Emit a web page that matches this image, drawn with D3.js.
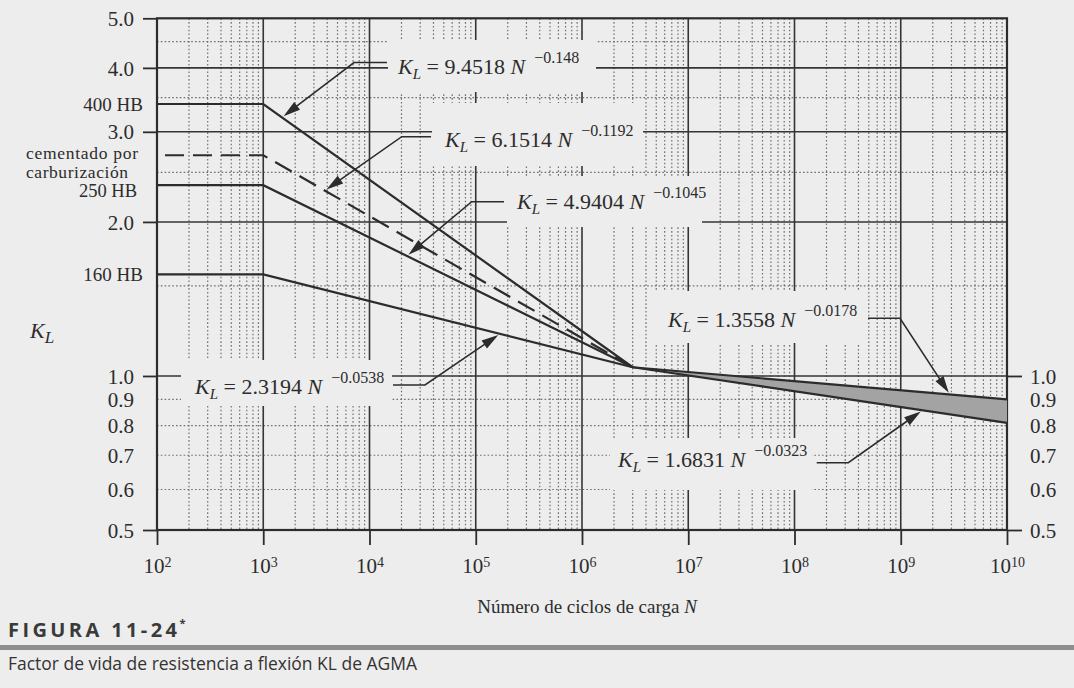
<!DOCTYPE html>
<html><head><meta charset="utf-8">
<script src="https://cdn.jsdelivr.net/npm/d3@7"></script>
<style>
body{margin:0;background:#ededed;}
svg{display:block;}
text{white-space:pre;}
</style>
</head><body>
<svg id="chart" width="1074" height="688"></svg>
<script>
// ---------------- data ----------------
const decadeN = [1e2,1e3,1e4,1e5,1e6,1e7,1e8,1e9,1e10];
const decadeExp = ["2","3","4","5","6","7","8","9","10"];
const minorMult = [2,3,4,5,6,7,8,9];
const leftMajorTicks = [5.0,4.0,3.0,2.0,1.0,0.5];
const leftMinorTicks = [0.9,0.8,0.7,0.6];
const rightMajorTicks = [1.0,0.5];
const rightMinorTicks = [0.9,0.8,0.7,0.6];
const majorGridK = [1,2,3,4];
const minorGridK = [0.6,0.7,0.8,0.9,1.5,2.5,3.5,4.5];

const hardnessN = [1e2, 1e3, 3e6];
const hb400K = [3.40, 3.40, 1.04];
const carburizedK = [2.70, 2.70, 1.04];
const hb250K = [2.36, 2.36, 1.04];
const hb160K = [1.58, 1.58, 1.04];
const bandN = [3e6, 1e10];
const bandUpperK = [1.04, 0.90];
const bandLowerK = [1.04, 0.81];

const eqCoef = ["9.4518","6.1514","4.9404","2.3194","1.3558","1.6831"];
const eqExp  = ["\u22120.148","\u22120.1192","\u22120.1045","\u22120.0538","\u22120.0178","\u22120.0323"];
const eqTipN = [1500, 3800, 2.25e4, 1.69e5, 2.9e9, 1.6e9];

// ---------------- layout ----------------
const W = 1074, H = 688;
const X0 = 157, X1 = 1007, Y0 = 530, Y1 = 18.3;
const ink = "#2c2c2c";
const serif = "'Liberation Serif','Times New Roman',serif";

const svg = d3.select("#chart");
svg.append("rect").attr("width",W).attr("height",H).attr("fill","#ededed");

const x = d3.scaleLog().domain([1e2,1e10]).range([X0,X1]);
const y = d3.scaleLog().domain([0.5,5]).range([Y0,Y1]);

// minor grid
const minorN = [];
decadeN.slice(0,-1).forEach(d => minorMult.forEach(m => minorN.push(d*m)));
const grid = svg.append("g");
grid.selectAll("line.mv").data(minorN).join("line")
  .attr("x1",d=>x(d)).attr("x2",d=>x(d)).attr("y1",y(5)).attr("y2",y(0.5))
  .attr("stroke","#707070").attr("stroke-width",1.2).attr("stroke-dasharray","1.6,2.2");
grid.selectAll("line.mh").data(minorGridK).join("line")
  .attr("x1",X0).attr("x2",X1).attr("y1",d=>y(d)).attr("y2",d=>y(d))
  .attr("stroke","#707070").attr("stroke-width",1.2).attr("stroke-dasharray","1.6,2.2");
// major grid
grid.selectAll("line.Mv").data(decadeN.slice(1,-1)).join("line")
  .attr("x1",d=>x(d)).attr("x2",d=>x(d)).attr("y1",y(5)).attr("y2",y(0.5))
  .attr("stroke","#353535").attr("stroke-width",1.6);
grid.selectAll("line.Mh").data(majorGridK).join("line")
  .attr("x1",X0).attr("x2",X1).attr("y1",d=>y(d)).attr("y2",d=>y(d))
  .attr("stroke","#353535").attr("stroke-width",1.6);

// label background boxes (the printed labels mask the grid)
const annLayout = [
  {series:0, textX:398, baseY:74,    lead:[[387,62.5],[354,62.5]],     box:[388,40,208,52]},
  {series:1, textX:445, baseY:146.5, lead:[[431,136.7],[401.7,136.7]], box:[432,103,211,63]},
  {series:2, textX:517, baseY:209,   lead:[[504,201.7],[471.7,201.7]], box:[507,176,195,51]},
  {series:3, textX:195, baseY:394,   lead:[[393,385],[425,385]],     box:[181,360,211,46]},
  {series:4, textX:668, baseY:326.5, lead:[[868,318.3],[900,318.3]], box:[655,291,211,52]},
  {series:5, textX:618, baseY:466.5, lead:[[816.7,462.7],[848.3,462.7]], box:[610,438,202,52]}
];
svg.append("g").selectAll("rect").data(annLayout).join("rect")
  .attr("x",d=>d.box[0]).attr("y",d=>d.box[1]).attr("width",d=>d.box[2]).attr("height",d=>d.box[3])
  .attr("fill","#ededed");

// frame
svg.append("rect").attr("x",X0).attr("y",Y1).attr("width",X1-X0).attr("height",Y0-Y1)
  .attr("fill","none").attr("stroke",ink).attr("stroke-width",2.2);

// axes
function styleAxis(g){
  g.select(".domain").remove();
  g.selectAll(".tick line").attr("stroke",ink).attr("stroke-width",1.8);
  g.selectAll(".tick text").attr("fill",ink).attr("font-family",serif).attr("font-size",21).attr("dy","0.34em");
}
const fmt = d3.format(".1f");
svg.append("g").attr("transform",`translate(${X0},0)`)
  .call(d3.axisLeft(y).tickValues(leftMajorTicks).tickSize(14).tickPadding(9).tickFormat(fmt)).call(styleAxis);
svg.append("g").attr("transform",`translate(${X0},0)`)
  .call(d3.axisLeft(y).tickValues(leftMinorTicks).tickSize(0).tickPadding(23).tickFormat(fmt)).call(styleAxis);
svg.append("g").attr("transform",`translate(${X1},0)`)
  .call(d3.axisRight(y).tickValues(rightMajorTicks).tickSize(15).tickPadding(8).tickFormat(fmt)).call(styleAxis);
svg.append("g").attr("transform",`translate(${X1},0)`)
  .call(d3.axisRight(y).tickValues(rightMinorTicks).tickSize(0).tickPadding(23).tickFormat(fmt)).call(styleAxis);

const gx = svg.append("g").attr("transform",`translate(0,${Y0})`)
  .call(d3.axisBottom(x).tickValues(decadeN).tickSize(15).tickPadding(13).tickFormat(()=>""));
gx.select(".domain").remove();
gx.selectAll(".tick line").attr("stroke",ink).attr("stroke-width",1.8);
gx.selectAll(".tick text").each(function(d,i){
  const t = d3.select(this).attr("fill",ink).attr("font-family",serif).attr("font-size",21);
  t.text(null);
  t.append("tspan").text("10");
  t.append("tspan").attr("dy","-0.45em").attr("font-size",14).text(decadeExp[i]);
});

// curves
const series = [
  {N:hardnessN, K:hb400K, dash:null},
  {N:hardnessN, K:carburizedK, dash:"19,9"},
  {N:hardnessN, K:hb250K, dash:null},
  {N:hardnessN, K:hb160K, dash:null},
  {N:bandN, K:bandUpperK, dash:null},
  {N:bandN, K:bandLowerK, dash:null}
];
const band = bandN.map((n,i)=>({n, lo:bandLowerK[i], hi:bandUpperK[i]}));
svg.append("path").datum(band)
  .attr("d", d3.area().x(d=>x(d.n)).y0(d=>y(d.lo)).y1(d=>y(d.hi)))
  .attr("fill","#a3a3a3");
const line = d3.line().x(d=>x(d[0])).y(d=>y(d[1]));
svg.append("g").selectAll("path").data(series).join("path")
  .attr("d", s => line(s.N.map((n,i)=>[n,s.K[i]])))
  .attr("fill","none").attr("stroke",ink).attr("stroke-width",2.2)
  .attr("stroke-dasharray", s=>s.dash).attr("stroke-dashoffset", s=>s.dash? -8 : null);

// side labels
const side = svg.append("g").attr("font-family",serif).attr("fill",ink);
side.append("text").attr("x",143).attr("y",y(hb400K[0])+7).attr("font-size",19).attr("text-anchor","end").text("400 HB");
side.append("text").attr("x",26).attr("y",159).attr("font-size",17.5).attr("textLength",112).attr("lengthAdjust","spacing").text("cementado por");
side.append("text").attr("x",26).attr("y",177.5).attr("font-size",17.5).attr("textLength",102).attr("lengthAdjust","spacing").text("carburización");
side.append("text").attr("x",137).attr("y",196.5).attr("font-size",18.5).attr("text-anchor","end").text("250 HB");
side.append("text").attr("x",143).attr("y",y(hb160K[0])+7).attr("font-size",19).attr("text-anchor","end").text("160 HB");

// K_L axis label
const kl = svg.append("text").attr("x",30).attr("y",338).attr("font-family",serif).attr("font-size",22).attr("fill",ink).attr("font-style","italic");
kl.append("tspan").text("K");
kl.append("tspan").attr("dy",5).attr("font-size",17).text("L");

// annotations
function kAt(s, n){
  for (let i=0;i<s.N.length-1;i++){
    if (n>=s.N[i] && n<=s.N[i+1]){
      const t=(Math.log(n)-Math.log(s.N[i]))/(Math.log(s.N[i+1])-Math.log(s.N[i]));
      return Math.exp(Math.log(s.K[i])+t*(Math.log(s.K[i+1])-Math.log(s.K[i])));
    }
  }
  return s.K[s.K.length-1];
}
const ann = svg.append("g");
annLayout.forEach((a,i)=>{
  const s = series[a.series];
  const n = eqTipN[i];
  let tx = x(n), ty = y(kAt(s,n));
  const [p0,p1] = a.lead;
  let dx = tx-p1[0], dy = ty-p1[1];
  const len = Math.hypot(dx,dy); const ux=dx/len, uy=dy/len;
  tx -= ux*2; ty -= uy*2;
  const L=17, Wd=4.8;
  const bx = tx-ux*L, by = ty-uy*L;
  ann.append("path").attr("d",`M${p0[0]},${p0[1]}L${p1[0]},${p1[1]}L${bx+ux*3},${by+uy*3}`)
    .attr("fill","none").attr("stroke",ink).attr("stroke-width",1.6);
  ann.append("path").attr("d",`M${tx},${ty}L${bx-uy*Wd},${by+ux*Wd}L${bx+uy*Wd},${by-ux*Wd}Z`)
    .attr("fill",ink);
  const t = ann.append("text").attr("x",a.textX).attr("y",a.baseY)
    .attr("font-family",serif).attr("font-size",22).attr("fill",ink);
  t.append("tspan").attr("font-style","italic").text("K");
  t.append("tspan").attr("font-style","italic").attr("font-size",15).attr("dy",5).text("L");
  t.append("tspan").attr("dy",-5).text(" = "+eqCoef[i]+" ");
  t.append("tspan").attr("font-style","italic").text("N");
  t.append("tspan").attr("font-size",16).attr("dy",-11).attr("dx",9).text(eqExp[i]);
});

// x title
const xt = svg.append("text").attr("x",587).attr("y",613).attr("text-anchor","middle")
  .attr("font-family",serif).attr("font-size",19).attr("fill",ink);
xt.append("tspan").text("Número de ciclos de carga ");
xt.append("tspan").attr("font-style","italic").text("N");

// caption
const fig = svg.append("text").attr("x",8).attr("y",637).attr("font-family","'Open Sans',sans-serif")
  .attr("font-weight","bold").attr("font-size",20).attr("letter-spacing",3.4).attr("fill","#3a3a3a");
fig.append("tspan").text("FIGURA 11-24");
fig.append("tspan").attr("font-size",11).attr("dy",-10).attr("dx",-1).attr("letter-spacing",0).text("*");
svg.append("rect").attr("x",0).attr("y",645).attr("width",W).attr("height",5).attr("fill","#8e8e8e");
svg.append("text").attr("x",8).attr("y",670).attr("font-family","'Open Sans',sans-serif")
  .attr("font-size",18).attr("fill","#333").attr("textLength",409).attr("lengthAdjust","spacingAndGlyphs")
  .text("Factor de vida de resistencia a flexión KL de AGMA");
</script>
</body></html>
